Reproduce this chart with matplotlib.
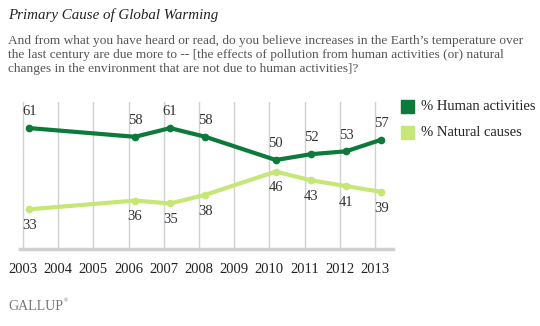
import matplotlib
matplotlib.use("Agg")
import matplotlib.pyplot as plt

# survey dates (fieldwork in March of each year)
years = [2003, 2006, 2007, 2008, 2010, 2011, 2012, 2013]
human = [61, 58, 61, 58, 50, 52, 53, 57]
natural = [33, 36, 35, 38, 46, 43, 41, 39]
tick_years = list(range(2003, 2014))

title = "Primary Cause of Global Warming"
subtitle = ["And from what you have heard or read, do you believe increases in the Earth\u2019s temperature over",
            "the last century are due more to -- [the effects of pollution from human activities (or) natural",
            "changes in the environment that are not due to human activities]?"]

DARK = "#0b7a3b"
LIGHT = "#c6e677"
SERIF = "Liberation Serif"

W, H = 540, 326
fig = plt.figure(figsize=(W / 100, H / 100), dpi=100)

# axes placed in pixel coordinates
left, right, top, bottom = 20, 393, 102, 249
ax = fig.add_axes([left / W, 1 - bottom / H, (right - left) / W, (bottom - top) / H])

xs = [y + 0.18 for y in years]
ax.plot(xs, human, color=DARK, lw=3, marker="o", ms=4.5, solid_capstyle="round", zorder=3)
ax.plot(xs, natural, color=LIGHT, lw=3, marker="o", ms=4.5, solid_capstyle="round", zorder=3)

for x, v in zip(xs, human):
    ax.annotate(str(v), (x, v), xytext=(0, 7), textcoords="offset points", ha="center", va="bottom",
                fontsize=10.5, family=SERIF, color="#333333")
for x, v in zip(xs, natural):
    ax.annotate(str(v), (x, v), xytext=(0, -7), textcoords="offset points", ha="center", va="top",
                fontsize=10.5, family=SERIF, color="#333333")

ax.set_xlim(2003 - 3 / 35.2, 2013 + 18 / 35.2)
ax.set_ylim(19.3, 70)
for yr in tick_years:
    ax.axvline(yr, color="#d0d0d0", lw=1, zorder=1)

for s in ["top", "right", "left"]:
    ax.spines[s].set_visible(False)
ax.spines["bottom"].set_color("#cfcfcf")
ax.spines["bottom"].set_linewidth(2.5)
ax.set_yticks([])
ax.set_xticks(tick_years)
ax.set_xticklabels([str(y) for y in tick_years], family=SERIF, fontsize=10.5, color="#222222")
ax.tick_params(axis="x", length=0, pad=10)

# legend
fig.patches.append(plt.Rectangle((401 / W, 1 - 113 / H), 13 / W, 13 / H, transform=fig.transFigure,
                                 color=DARK, figure=fig))
fig.patches.append(plt.Rectangle((401 / W, 1 - 139 / H), 13 / W, 13 / H, transform=fig.transFigure,
                                 color=LIGHT, figure=fig))
fig.text(421 / W, 1 - 106.5 / H, "% Human activities", family=SERIF, fontsize=10.5, color="#222222", va="center")
fig.text(421 / W, 1 - 132.5 / H, "% Natural causes", family=SERIF, fontsize=10.5, color="#222222", va="center")

fig.text(8 / W, 1 - 15 / H, title, family=SERIF, style="italic", fontsize=10.8, color="#222222", va="center")
for i, line in enumerate(subtitle):
    fig.text(8 / W, 1 - (41 + 14 * i) / H, line, family=SERIF, fontsize=9.6, color="#555555", va="center")

fig.text(8 / W, 1 - 306 / H, "GALLUP", family=SERIF, fontsize=10, color="#777777", va="center")
fig.text(63.5 / W, 1 - 301 / H, "\u00ae", family=SERIF, fontsize=4, color="#777777", va="center")

fig.savefig("out.png", dpi=100)
